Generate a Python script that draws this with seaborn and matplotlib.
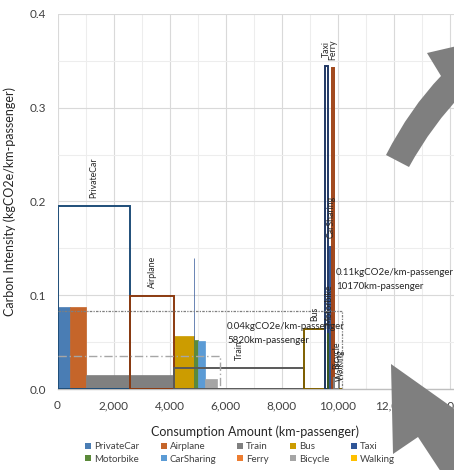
import numpy as np
import matplotlib
matplotlib.use('Agg')
import matplotlib.pyplot as plt
import seaborn as sns
from matplotlib.patches import Patch, PathPatch
from matplotlib.path import Path
from matplotlib.ticker import FuncFormatter, MultipleLocator

sns.set_theme(style='white')
plt.rcParams['font.family'] = ['Lato', 'DejaVu Sans']

modes = ['PrivateCar', 'Airplane', 'Train', 'Bus', 'Taxi',
         'Motorbike', 'CarSharing', 'Ferry', 'Bicycle', 'Walking']

# current situation (filled bars)
base_km = [430, 570, 3150, 720, 10, 120, 270, 0, 440, 110]
base_ci = [0.088, 0.088, 0.015, 0.057, 0.140, 0.052, 0.051, 0.0, 0.011, 0.0]

# other situation (outlined bars)
scen_km = [2600, 1550, 4660, 750, 110, 60, 60, 100, 150, 130]
scen_ci = [0.195, 0.099, 0.022, 0.064, 0.345, 0.059, 0.152, 0.342, 0.012, 0.0]

# weighted averages
base_avg_ci, base_total = 0.035, 5820
scen_avg_ci, scen_total = 0.083, 10170
base_avg_text = ['0.04kgCO2e/km-passenger', '5820km-passenger']
scen_avg_text = ['0.11kgCO2e/km-passenger', '10170km-passenger']

fill_colors = ['#4a7db4', '#c5652a', '#808080', '#cc9c00', '#2f5597',
               '#5b8a3a', '#5b9bd5', '#ed7d31', '#a5a5a5', '#ffc000']
line_colors = ['#1f4e79', '#8b3a10', '#595959', '#7f6000', '#203864',
               '#385723', '#2f5597', '#a0461a', '#7f7f7f', '#7f6000']

W, H = 454, 470
fig = plt.figure(figsize=(W / 100, H / 100), dpi=100)
ax = fig.add_axes([57.5 / W, 81 / H, 448 / W, 375 / H])

base_left = np.concatenate([[0], np.cumsum(base_km)[:-1]])
scen_left = np.concatenate([[0], np.cumsum(scen_km)[:-1]])

ax.bar(base_left, base_ci, width=base_km, align='edge', color=fill_colors,
       edgecolor=fill_colors, linewidth=0.5, zorder=2)
ax.bar(scen_left, scen_ci, width=scen_km, align='edge', fill=False,
       edgecolor=line_colors, linewidth=1.4, zorder=3)

for x0, w, h, name in zip(scen_left, scen_km, scen_ci, modes):
    ax.annotate(name, (x0 + w / 2, h), xytext=(0, 6), textcoords='offset points',
                rotation=90, ha='center', va='bottom', fontsize=6.3,
                color='#262626', zorder=5)

# average boxes
ax.plot([0, base_total, base_total], [base_avg_ci, base_avg_ci, 0],
        color='#a6a6a6', lw=1.0, ls=(0, (6, 2, 1, 2)), zorder=4)
ax.plot([0, scen_total, scen_total], [scen_avg_ci, scen_avg_ci, 0],
        color='#7f7f7f', lw=0.9, ls=(0, (2, 1, 1, 1)), zorder=4)

ax.text(6060, 0.067, base_avg_text[0], fontsize=7, va='center', color='#262626', zorder=5)
ax.text(6060, 0.052, base_avg_text[1], fontsize=7, va='center', color='#262626', zorder=5)
ax.text(9950, 0.124, scen_avg_text[0], fontsize=7, va='center', color='#262626', zorder=5)
ax.text(9950, 0.109, scen_avg_text[1], fontsize=7, va='center', color='#262626', zorder=5)

ax.set_xlim(0, 16000)
ax.set_ylim(0, 0.4)
ax.xaxis.set_major_locator(MultipleLocator(2000))
ax.xaxis.set_minor_locator(MultipleLocator(1000))
ax.yaxis.set_major_locator(MultipleLocator(0.1))
ax.yaxis.set_minor_locator(MultipleLocator(0.05))
ax.xaxis.set_major_formatter(FuncFormatter(lambda v, p: f'{v:,.0f}'))
ax.yaxis.set_major_formatter(FuncFormatter(lambda v, p: f'{v:.1f}'))
ax.grid(which='major', color='#d9d9d9', lw=0.8)
ax.grid(which='minor', color='#ededed', lw=0.8)
ax.set_axisbelow(True)
ax.tick_params(axis='both', which='both', length=0, labelsize=8.5, colors='#404040')
ax.tick_params(axis='x', pad=8)
ax.tick_params(axis='y', pad=8)
for s in ['top', 'right', 'left']:
    ax.spines[s].set_visible(False)
ax.spines['bottom'].set_color('#bfbfbf')
ax.spines['bottom'].set_linewidth(1.0)

ax.set_xlabel('Consumption Amount (km-passenger)', fontsize=9, color='#262626')
ax.set_ylabel('Carbon Intensity (kgCO2e/km-passenger)', fontsize=9, color='#262626')
ax.xaxis.set_label_coords((255 - 57.5) / 448, -36 / 375)
ax.yaxis.set_label_coords(-41.5 / 448, 0.5)

# legend is filled column by column, so reorder to read row by row
order = [0, 5, 1, 6, 2, 7, 3, 8, 4, 9]
handles = [Patch(facecolor=fill_colors[i], edgecolor='none') for i in order]
labels = [modes[i] for i in order]
fig.legend(handles, labels, ncol=5, loc='center', bbox_to_anchor=(240 / W, 1 - 453 / H),
           frameon=False, fontsize=7, handlelength=0.6, handleheight=0.6,
           handletextpad=0.3, columnspacing=2.2, labelspacing=0.35,
           labelcolor='#404040')

# grey arrow overlays cut by the frame
def px(pts):
    return [(x / W, 1 - y / H) for x, y in pts]

top_verts = px([(386, 155), (410, 108), (441, 76), (427, 53), (500, 36),
                (485, 112), (464, 92), (432, 125), (409, 167), (386, 155)])
top_codes = [Path.MOVETO, Path.CURVE3, Path.CURVE3, Path.LINETO, Path.LINETO,
             Path.LINETO, Path.LINETO, Path.CURVE3, Path.CURVE3, Path.CLOSEPOLY]
fig.add_artist(PathPatch(Path(top_verts, top_codes), facecolor='#7f7f7f',
                         edgecolor='none', transform=fig.transFigure, zorder=10))

bot_verts = px([(391, 364), (393, 454), (418, 437), (443, 475), (470, 475),
                (470, 420), (391, 364)])
bot_codes = [Path.MOVETO] + [Path.LINETO] * 5 + [Path.CLOSEPOLY]
fig.add_artist(PathPatch(Path(bot_verts, bot_codes), facecolor='#7f7f7f',
                         edgecolor='none', transform=fig.transFigure, zorder=10))

fig.savefig('out.png', dpi=100)
